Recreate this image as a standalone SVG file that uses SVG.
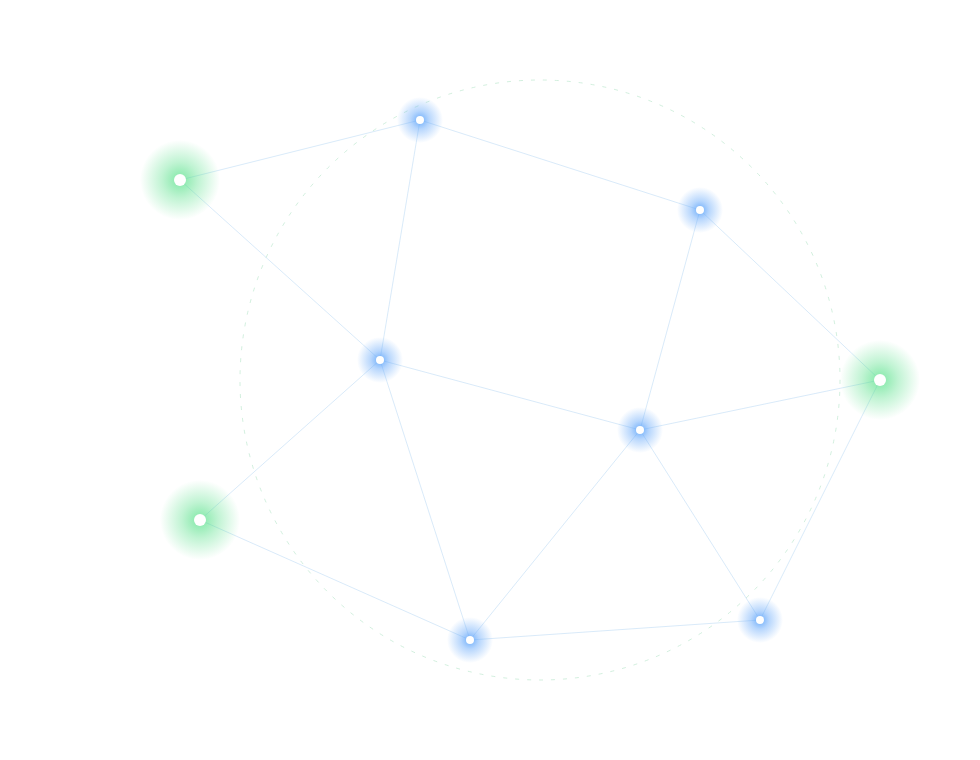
<svg xmlns="http://www.w3.org/2000/svg" width="980" height="760" viewBox="0 0 980 760">
<defs>
<radialGradient id="gg">
<stop offset="0" stop-color="#4ade80" stop-opacity="0.7"/>
<stop offset="0.45" stop-color="#4ade80" stop-opacity="0.35"/>
<stop offset="1" stop-color="#4ade80" stop-opacity="0"/>
</radialGradient>
<radialGradient id="bg">
<stop offset="0" stop-color="#4f9cf9" stop-opacity="0.85"/>
<stop offset="0.4" stop-color="#60a5fa" stop-opacity="0.45"/>
<stop offset="1" stop-color="#60a5fa" stop-opacity="0"/>
</radialGradient>
</defs>
<style>
.e{stroke:#bfdcf5;stroke-width:1;opacity:0.6;fill:none}
.ring{fill:none;stroke:#bfe8d0;stroke-width:1;stroke-dasharray:4 8;opacity:0.7}
.core{fill:#ffffff}
</style>
<rect width="980" height="760" fill="#ffffff"/>
<circle class="ring" cx="540" cy="380" r="300"/>
<g id="connectors">
<line class="e" x1="180" y1="180" x2="420" y2="120"/>
<line class="e" x1="420" y1="120" x2="700" y2="210"/>
<line class="e" x1="180" y1="180" x2="380" y2="360"/>
<line class="e" x1="420" y1="120" x2="380" y2="360"/>
<line class="e" x1="700" y1="210" x2="880" y2="380"/>
<line class="e" x1="700" y1="210" x2="640" y2="430"/>
<line class="e" x1="380" y1="360" x2="640" y2="430"/>
<line class="e" x1="640" y1="430" x2="880" y2="380"/>
<line class="e" x1="380" y1="360" x2="200" y2="520"/>
<line class="e" x1="380" y1="360" x2="470" y2="640"/>
<line class="e" x1="200" y1="520" x2="470" y2="640"/>
<line class="e" x1="640" y1="430" x2="470" y2="640"/>
<line class="e" x1="640" y1="430" x2="760" y2="620"/>
<line class="e" x1="880" y1="380" x2="760" y2="620"/>
<line class="e" x1="470" y1="640" x2="760" y2="620"/>
</g>
<g id="n1"><circle cx="180" cy="180" r="40" fill="url(#gg)"/><circle class="core" cx="180" cy="180" r="6"/></g>
<g id="n2"><circle cx="880" cy="380" r="40" fill="url(#gg)"/><circle class="core" cx="880" cy="380" r="6"/></g>
<g id="n3"><circle cx="200" cy="520" r="40" fill="url(#gg)"/><circle class="core" cx="200" cy="520" r="6"/></g>
<g id="n4"><circle cx="420" cy="120" r="23" fill="url(#bg)"/><circle class="core" cx="420" cy="120" r="4"/></g>
<g id="n5"><circle cx="700" cy="210" r="23" fill="url(#bg)"/><circle class="core" cx="700" cy="210" r="4"/></g>
<g id="n6"><circle cx="380" cy="360" r="23" fill="url(#bg)"/><circle class="core" cx="380" cy="360" r="4"/></g>
<g id="n7"><circle cx="640" cy="430" r="23" fill="url(#bg)"/><circle class="core" cx="640" cy="430" r="4"/></g>
<g id="n8"><circle cx="470" cy="640" r="23" fill="url(#bg)"/><circle class="core" cx="470" cy="640" r="4"/></g>
<g id="n9"><circle cx="760" cy="620" r="23" fill="url(#bg)"/><circle class="core" cx="760" cy="620" r="4"/></g>
</svg>
